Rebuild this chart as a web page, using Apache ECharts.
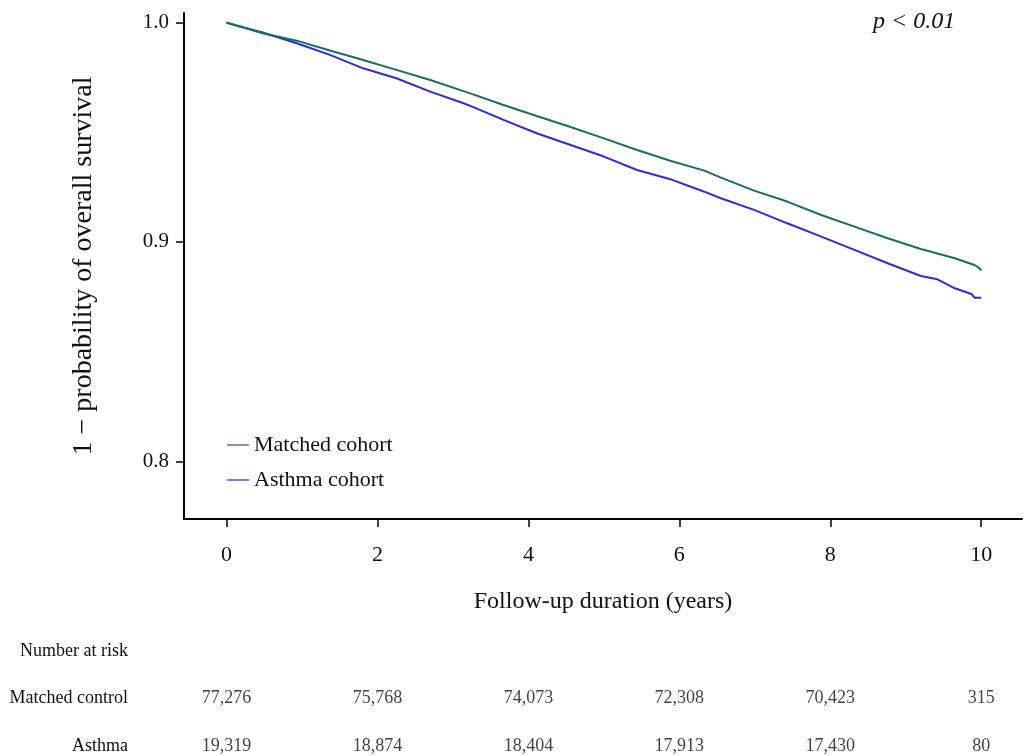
<!DOCTYPE html>
<html>
<head>
<meta charset="utf-8">
<script src="https://cdn.jsdelivr.net/npm/echarts@6/dist/echarts.min.js"></script>
<style>html,body{margin:0;padding:0;background:#fff;}#c{width:1025px;height:756px;}</style>
</head>
<body>
<div id="c"></div>
<script>
// ---- data ----
const matchedTime = [0, 0.48, 0.93, 1.37, 1.81, 2.25, 2.70, 3.14, 3.23, 3.67, 4.11, 4.56, 5.00, 5.44, 5.88, 6.33, 6.55, 6.99, 7.43, 7.88, 8.32, 8.76, 9.20, 9.65, 9.91, 9.98, 10.0];
const matchedSurv = [1.000, 0.9951, 0.9917, 0.9872, 0.9829, 0.9784, 0.9738, 0.9687, 0.9677, 0.9624, 0.9574, 0.9524, 0.9472, 0.9419, 0.9370, 0.9325, 0.9293, 0.9234, 0.9184, 0.9123, 0.9070, 0.9017, 0.8968, 0.8926, 0.8895, 0.8880, 0.8870];
const asthmaTime = [0, 0.48, 0.93, 1.37, 1.81, 2.25, 2.70, 3.14, 3.23, 3.67, 4.11, 4.56, 5.00, 5.44, 5.88, 6.33, 6.55, 6.99, 7.43, 7.88, 8.32, 8.76, 9.20, 9.42, 9.65, 9.87, 9.91, 10.0];
const asthmaSurv = [0.9998, 0.9954, 0.9905, 0.9852, 0.9791, 0.9746, 0.9685, 0.9632, 0.9620, 0.9556, 0.9495, 0.9442, 0.9389, 0.9328, 0.9286, 0.9229, 0.9199, 0.9146, 0.9085, 0.9024, 0.8964, 0.8903, 0.8845, 0.8830, 0.8789, 0.8763, 0.8746, 0.8746];
const xTicks = [0, 2, 4, 6, 8, 10];
const yTicks = [0.8, 0.9, 1.0];
const riskTimes = [0, 2, 4, 6, 8, 10];
const riskMatched = [77276, 75768, 74073, 72308, 70423, 315];
const riskAsthma = [19319, 18874, 18404, 17913, 17430, 80];
const riskRows = ['Number at risk', 'Matched control', 'Asthma'];
const seriesNames = ['Matched cohort', 'Asthma cohort'];

// ---- chart ----
const FONT = '"Liberation Serif", "DejaVu Serif", serif';
const zip = (a, b) => a.map((v, i) => [v, b[i]]);
const fmt = n => n.toLocaleString('en-US');
const chart = echarts.init(document.getElementById('c'), null, {renderer: 'canvas'});

const XMIN = -0.563, XMAX = 10.54;

chart.setOption({
  animation: false,
  backgroundColor: '#fff',
  textStyle: {fontFamily: FONT, color: '#111'},
  grid: [
    {left: 184, right: 3, top: 13, bottom: 237},
    {left: 184, right: 3, top: 626, bottom: 0}
  ],
  xAxis: [
    {
      gridIndex: 0, type: 'value', min: XMIN, max: XMAX,
      name: 'Follow-up duration (years)', nameLocation: 'middle', nameGap: 71,
      nameTextStyle: {fontFamily: FONT, fontSize: 24, color: '#111'},
      splitLine: {show: false},
      axisLine: {show: true, onZero: false, lineStyle: {color: '#000', width: 2}},
      axisTick: {show: true, length: 8, customValues: xTicks, lineStyle: {color: '#000', width: 1.5}},
      axisLabel: {customValues: xTicks, fontFamily: FONT, fontSize: 22, color: '#111', margin: 25}
    },
    {
      gridIndex: 1, type: 'value', min: XMIN, max: XMAX, show: false
    }
  ],
  yAxis: [
    {
      gridIndex: 0, type: 'value', min: 0.7738, max: 1.0043,
      name: '1 \u2212 probability of overall survival', nameLocation: 'middle', nameGap: 86,
      nameRotate: 90,
      nameTextStyle: {fontFamily: FONT, fontSize: 28, color: '#111'},
      splitLine: {show: false},
      axisLine: {show: true, onZero: false, lineStyle: {color: '#000', width: 2}},
      axisTick: {show: true, length: 8, customValues: yTicks, lineStyle: {color: '#000', width: 1.5}},
      axisLabel: {customValues: yTicks, formatter: v => v.toFixed(1), fontFamily: FONT, fontSize: 21, color: '#111', margin: 15}
    },
    {
      gridIndex: 1, type: 'value', inverse: true, min: -0.526, max: 2.21,
      axisLine: {show: false}, axisTick: {show: false}, splitLine: {show: false},
      axisLabel: {customValues: [0, 1, 2], formatter: v => riskRows[Math.round(v)], fontFamily: FONT, fontSize: 18, color: '#111', margin: 56}
    }
  ],
  legend: {
    left: 222, top: 429, orient: 'vertical', itemGap: 13,
    itemWidth: 22, itemHeight: 1.5, icon: 'rect',
    textStyle: {fontFamily: FONT, fontSize: 22, color: '#111'},
    data: [
      {name: seriesNames[0], itemStyle: {color: '#4f8a45'}},
      {name: seriesNames[1], itemStyle: {color: '#5050ff'}}
    ]
  },
  graphic: [
    {type: 'text', left: 873, top: 10, style: {text: 'p < 0.01', font: 'italic 24px ' + FONT, fill: '#111'}}
  ],
  series: [
    {
      name: seriesNames[0], type: 'line', xAxisIndex: 0, yAxisIndex: 0,
      data: zip(matchedTime, matchedSurv), showSymbol: false, symbol: 'none',
      lineStyle: {color: '#17705d', width: 2}, itemStyle: {color: '#17705d'}, z: 3
    },
    {
      name: seriesNames[1], type: 'line', xAxisIndex: 0, yAxisIndex: 0,
      data: zip(asthmaTime, asthmaSurv), showSymbol: false, symbol: 'none',
      lineStyle: {color: '#2b2be0', width: 2}, itemStyle: {color: '#2b2be0'}, z: 2
    },
    {
      type: 'scatter', xAxisIndex: 1, yAxisIndex: 1, symbolSize: 1,
      itemStyle: {color: 'rgba(0,0,0,0)'},
      data: riskTimes.map((t, i) => [t, 1, riskMatched[i]]),
      label: {show: true, position: 'inside', formatter: p => fmt(p.value[2]), fontFamily: FONT, fontSize: 18, color: '#111'},
      silent: true
    },
    {
      type: 'scatter', xAxisIndex: 1, yAxisIndex: 1, symbolSize: 1,
      itemStyle: {color: 'rgba(0,0,0,0)'},
      data: riskTimes.map((t, i) => [t, 2, riskAsthma[i]]),
      label: {show: true, position: 'inside', formatter: p => fmt(p.value[2]), fontFamily: FONT, fontSize: 18, color: '#111'},
      silent: true
    }
  ]
});
</script>
</body>
</html>
